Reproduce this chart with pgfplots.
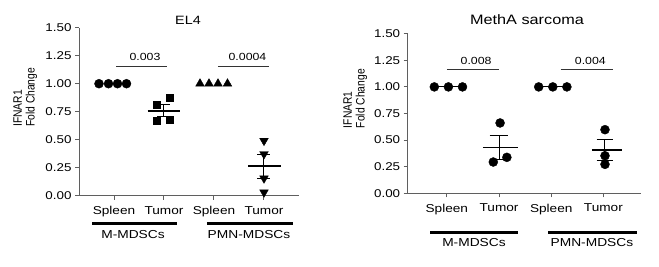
\documentclass[border=0pt]{standalone}
\usepackage{fontspec}
\setmainfont{Liberation Sans}[FakeStretch=1.19]
\newfontfamily\ylabfont{Liberation Sans}
\usepackage{graphicx}
\usepackage{pgfplots}
\pgfplotsset{compat=1.18}
\definecolor{axgray}{RGB}{95,95,95}
\begin{document}
\begin{tikzpicture}
\path[use as bounding box] (0,0) rectangle (659bp,267bp);
\pgfplotsset{
 mystyle/.style={
  scale only axis, anchor=south west, clip=false,
  axis lines=left, axis line style={-, draw=axgray, line width=1bp},
  ymin=0, ymax=1.5, ytick={0,0.25,0.5,0.75,1,1.25,1.5},
  yticklabel style={/pgf/number format/.cd, fixed, fixed zerofill, precision=2},
  /pgf/number format/assume math mode=true,
  xtick={0,1,2,3}, xticklabels={Spleen,Tumor,Spleen,Tumor},
  tick style={draw=axgray, line width=1bp}, tick align=outside, major tick length=4bp,
  ticklabel style={font=\fontsize{11.3}{13}\selectfont, text=black},
  xticklabel style={font=\fontsize{11.5}{13}\selectfont, yshift=-3bp},
 },
 meanl/.style={black, line width=1.8bp, forget plot},
 seml/.style={black, line width=1bp, forget plot},
}
% ---------------- Left: EL4 ----------------
\begin{axis}[mystyle, at={(79bp,71.3bp)}, width=220bp, height=168bp, xmin=-0.7, xmax=3.7]
\addplot[only marks, mark=*, mark size=4.5bp, black] coordinates {(-0.3,1)(-0.11,1)(0.07,1)(0.25,1)};
\addplot[only marks, mark=square*, mark size=3.4bp, black] coordinates {(0.85,0.816)(1.12,0.875)(0.85,0.667)(1.12,0.679)};
\addplot[only marks, mark=triangle*, mark size=5bp, black] coordinates {(1.72,1)(1.9,1)(2.08,1)(2.27,1)};
\addplot[only marks, mark=triangle*, mark size=5bp, mark options={rotate=180}, black] coordinates {(3,0.491)(3,0.372)(3,0.155)(3,0.03)};
% means
\addplot[meanl] coordinates {(0.67,0.759)(1.33,0.759)};
\addplot[meanl] coordinates {(2.69,0.262)(3.34,0.262)};
% SEM
\addplot[seml] coordinates {(1,0.708)(1,0.81)};
\addplot[seml] coordinates {(0.87,0.708)(1.13,0.708)};
\addplot[seml] coordinates {(0.87,0.81)(1.13,0.81)};
\addplot[seml] coordinates {(3,0.158)(3,0.366)};
\addplot[seml] coordinates {(2.87,0.158)(3.13,0.158)};
\addplot[seml] coordinates {(2.87,0.366)(3.13,0.366)};
% significance
\draw[black!80, line width=0.8bp] (axis cs:0.04,1.158) -- (axis cs:1.06,1.158);
\draw[black!80, line width=0.8bp] (axis cs:2.08,1.158) -- (axis cs:3.1,1.158);
\node[font=\fontsize{10.4}{12}\selectfont] at (axis cs:0.62,1.237) {0.003};
\node[font=\fontsize{10.4}{12}\selectfont] at (axis cs:2.67,1.237) {0.0004};
% groups
\draw[black, line width=3bp] (axis cs:-0.44,-0.244) -- (axis cs:1.26,-0.244);
\draw[black, line width=3bp] (axis cs:1.86,-0.244) -- (axis cs:3.58,-0.244);
\node[font=\fontsize{11.6}{13}\selectfont] at (axis cs:0.38,-0.35) {M-MDSCs};
\node[font=\fontsize{11.6}{13}\selectfont] at (axis cs:2.7,-0.35) {PMN-MDSCs};
\end{axis}
% ---------------- Right: MethA ----------------
\begin{axis}[mystyle, at={(407.7bp,73.7bp)}, width=233.3bp, height=159.6bp, xmin=-0.75, xmax=3.72]
\addplot[meanl, line width=1.2bp] coordinates {(-0.3,1)(0.33,1)};
\addplot[meanl, line width=1.2bp] coordinates {(1.72,1)(2.33,1)};
\addplot[only marks, mark=*, mark size=4.5bp, black] coordinates {(-0.24,1)(0.03,1)(0.3,1)};
\addplot[only marks, mark=*, mark size=4.5bp, black] coordinates {(1.02,0.661)(0.89,0.294)(1.15,0.338)};
\addplot[only marks, mark=*, mark size=4.5bp, black] coordinates {(1.76,1)(2.03,1)(2.3,1)};
\addplot[only marks, mark=*, mark size=4.5bp, black] coordinates {(3.03,0.598)(3.03,0.353)(3.03,0.272)};
% means
\addplot[meanl, line width=1.1bp] coordinates {(0.69,0.431)(1.36,0.431)};
\addplot[meanl, line width=1.8bp] coordinates {(2.78,0.408)(3.35,0.408)};
% SEM
\addplot[seml] coordinates {(1,0.315)(1,0.547)};
\addplot[seml] coordinates {(0.82,0.315)(1.18,0.315)};
\addplot[seml] coordinates {(0.82,0.547)(1.18,0.547)};
\addplot[seml] coordinates {(3.03,0.31)(3.03,0.506)};
\addplot[seml] coordinates {(2.87,0.31)(3.19,0.31)};
\addplot[seml] coordinates {(2.87,0.506)(3.19,0.506)};
% significance
\draw[black!80, line width=0.8bp] (axis cs:0,1.165) -- (axis cs:1,1.165);
\draw[black!80, line width=0.8bp] (axis cs:2.18,1.165) -- (axis cs:3.19,1.165);
\node[font=\fontsize{10.4}{12}\selectfont] at (axis cs:0.56,1.246) {0.008};
\node[font=\fontsize{10.4}{12}\selectfont] at (axis cs:2.75,1.246) {0.004};
% groups
\draw[black, line width=3bp] (axis cs:-0.32,-0.364) -- (axis cs:1.37,-0.364);
\draw[black, line width=3bp] (axis cs:1.94,-0.364) -- (axis cs:3.64,-0.364);
\node[font=\fontsize{11.6}{13}\selectfont] at (axis cs:0.52,-0.458) {M-MDSCs};
\node[font=\fontsize{11.6}{13}\selectfont] at (axis cs:2.78,-0.458) {PMN-MDSCs};
\end{axis}
% titles
\node[font=\fontsize{12.1}{14}\selectfont] at (188bp,247bp) {EL4};
\node[font=\fontsize{13.7}{16}\selectfont] at (527bp,247bp) {MethA sarcoma};
% y labels
\node[rotate=90, anchor=west, inner sep=0pt] at (25.8bp,140bp) {\scalebox{0.84}[1]{\ylabfont\fontsize{12.3}{12.3}\selectfont\begin{tabular}{@{}l@{}}IFNAR1\\Fold Change\end{tabular}}};
\node[rotate=90, anchor=west, inner sep=0pt] at (355.8bp,138.7bp) {\scalebox{0.84}[1]{\ylabfont\fontsize{12.3}{12.3}\selectfont\begin{tabular}{@{}l@{}}IFNAR1\\Fold Change\end{tabular}}};
\end{tikzpicture}
\end{document}
